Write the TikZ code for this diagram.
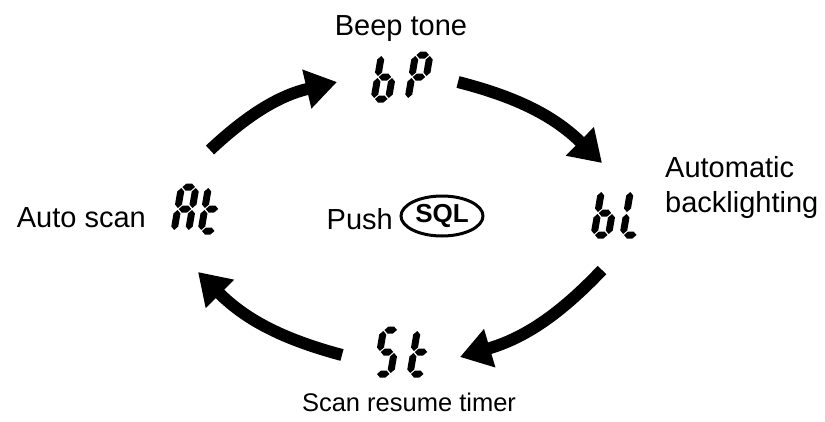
\documentclass[tikz,border=0pt]{standalone}
\usepackage{fontspec}
\setmainfont{Liberation Sans}
\usetikzlibrary{arrows.meta,shapes.geometric}
\def\sT{3.5}\def\sG{1.0}\def\sW{14.5}\def\sH{44}\def\sHh{22}
\newcommand\hsegm[3]{\fill ({#1+\sG},#3) -- ({#1+\sG+\sT},{#3+\sT}) -- ({#2-\sG-\sT},{#3+\sT}) -- ({#2-\sG},#3) -- ({#2-\sG-\sT},{#3-\sT}) -- ({#1+\sG+\sT},{#3-\sT}) -- cycle;}
\newcommand\vsegm[3]{\fill (#1,{#2+\sG}) -- ({#1+\sT},{#2+\sG+\sT}) -- ({#1+\sT},{#3-\sG-\sT}) -- (#1,{#3-\sG}) -- ({#1-\sT},{#3-\sG-\sT}) -- ({#1-\sT},{#2+\sG+\sT}) -- cycle;}
\newcommand\ssgA{\hsegm{0}{\sW}{\sH}}
\newcommand\ssgB{\vsegm{\sW}{\sHh}{\sH}}
\newcommand\ssgC{\vsegm{\sW}{0}{\sHh}}
\newcommand\ssgD{\hsegm{0}{\sW}{0}}
\newcommand\ssgE{\vsegm{0}{0}{\sHh}}
\newcommand\ssgF{\vsegm{0}{\sHh}{\sH}}
\newcommand\ssgG{\hsegm{0}{\sW}{\sHh}}
\newcommand\sevseg[2]{\begin{scope}[shift={#1},x=1pt,y=1pt,xslant=0.17]\foreach \s in {#2}{\csname ssg\s\endcsname}\end{scope}}
\tikzset{
  lbl/.style={font=\fontsize{29}{35}\selectfont, inner sep=0pt},
  disp/.style={inner sep=0pt, minimum width=#1, minimum height=50pt},
  cyc/.style={line width=12pt, -{Triangle[length=31pt,width=38pt]}, bend left=15}
}
\begin{document}
\begin{tikzpicture}[x=1pt,y=-1pt]
\useasboundingbox (0,0) rectangle (825,421);
% displays
\node[disp=64pt] (bp) at (401,77) {};
\node[disp=56pt] (bl) at (616,214) {};
\node[disp=62pt] (st) at (401,352) {};
\node[disp=52pt] (at) at (196,211) {};
\sevseg{(374,99)}{F,E,G,C,D}
\sevseg{(408,99)}{A,B,F,G,E}
\sevseg{(594,235)}{F,E,G,C,D}
\sevseg{(623,235)}{F,E,D}
\sevseg{(376,374)}{A,F,G,C,D}
\sevseg{(410,374)}{F,E,G,D}
\sevseg{(174,231)}{A,B,C,E,F,G}
\sevseg{(201,231)}{F,E,G,D}
% labels
\node[lbl, anchor=base] (beep) at (401,35) {Beep tone};
\node[lbl, anchor=base east] (auto) at (146,227) {Auto scan};
\node[lbl, anchor=base west, align=left] (back) at (665,212) {Automatic\\backlighting};
\node[lbl, anchor=base, font=\fontsize{25.5}{30}\selectfont] (scan) at (409,411) {Scan resume timer};
\node[lbl, anchor=base east] (push) at (393,229) {Push};
\node[draw, ellipse, line width=3pt, inner sep=0pt, minimum width=82pt, minimum height=40pt,
      font=\bfseries\fontsize{26}{26}\selectfont] (sql) at (442,216) {SQL};
% arrow ends
\coordinate (a1s) at (210,150); \coordinate (a1e) at (337,82);
\coordinate (a2s) at (458,82);  \coordinate (a2e) at (602,163);
\coordinate (a3s) at (602,270); \coordinate (a3e) at (460,357);
\coordinate (a4s) at (342,355); \coordinate (a4e) at (198,272);
\draw[cyc] (a1s) to (a1e);
\draw[cyc] (a2s) to (a2e);
\draw[cyc] (a3s) to (a3e);
\draw[cyc] (a4s) to (a4e);
\end{tikzpicture}
\end{document}
